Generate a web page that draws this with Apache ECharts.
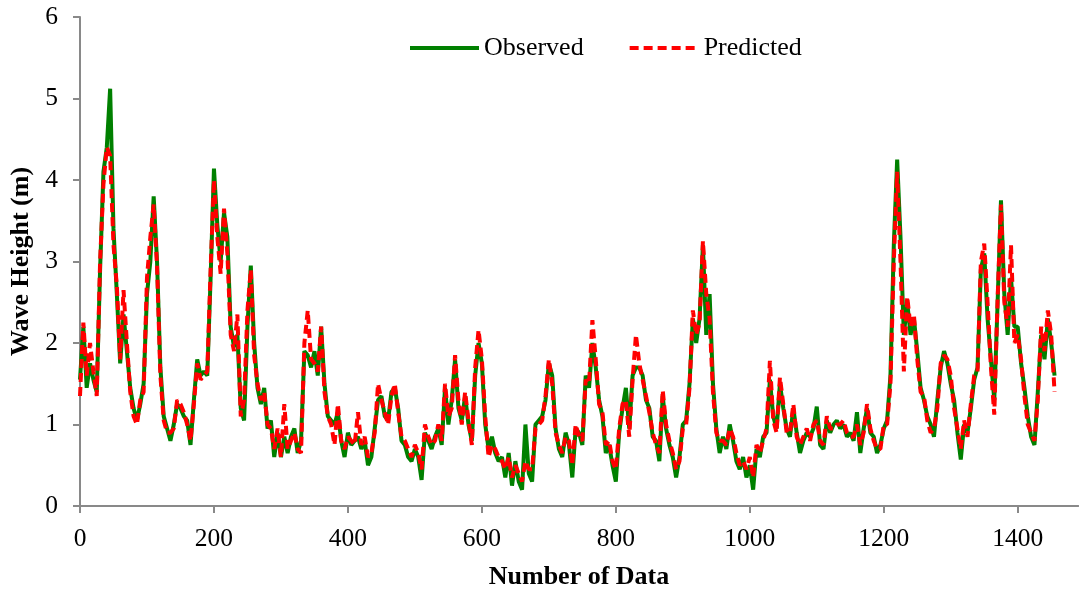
<!DOCTYPE html>
<html>
<head>
<meta charset="utf-8">
<script src="https://cdn.jsdelivr.net/npm/echarts@6/dist/echarts.min.js"></script>
<style>
html,body{margin:0;padding:0;background:#fff;}
#chart{width:1080px;height:591px;}
</style>
</head>
<body>
<div id="chart"></div>
<script>
// Sample spacing along "Number of Data" (one value every STEP data points)
const STEP = 5;
const xTicks = [0, 200, 400, 600, 800, 1000, 1200, 1400];
const seriesNames = ['Observed', 'Predicted'];

const observed = [
  1.55,2.2,1.45,1.75,1.55,1.4,2.9,4.1,4.4,5.12, 3.4,2.6,1.75,2.35,1.9,1.45,1.2,1.05,1.25,1.5,
  2.6,3.0,3.8,3.0,1.7,1.1,0.95,0.8,1.0,1.25, 1.2,1.1,1.05,0.75,1.3,1.8,1.6,1.65,1.6,2.8,
  4.14,3.45,3.0,3.6,3.3,2.2,1.95,2.1,1.2,1.05, 2.2,2.95,2.0,1.45,1.25,1.45,0.95,1.05,0.6,0.9,
  0.6,0.85,0.65,0.85,0.95,0.65,0.8,1.9,1.85,1.7, 1.9,1.6,2.2,1.5,1.1,1.05,1.0,1.15,0.8,0.6,
  0.9,0.75,0.8,0.85,0.7,0.8,0.5,0.6,0.95,1.3, 1.35,1.1,1.05,1.4,1.45,1.2,0.8,0.75,0.6,0.55,
  0.7,0.6,0.32,0.9,0.8,0.7,0.85,0.95,0.75,1.45, 1.0,1.3,1.8,1.2,1.05,1.35,1.0,0.8,1.6,2.0,
  1.75,1.0,0.7,0.85,0.65,0.55,0.6,0.35,0.65,0.25, 0.55,0.3,0.2,1.0,0.4,0.3,1.0,1.05,1.1,1.3,
  1.75,1.6,0.95,0.7,0.6,0.9,0.75,0.35,0.95,0.9, 0.75,1.6,1.45,2.0,1.7,1.3,1.1,0.65,0.75,0.5,
  0.3,0.9,1.2,1.45,0.95,1.6,1.7,1.7,1.6,1.3, 1.2,0.85,0.8,0.55,1.35,0.95,0.75,0.6,0.35,0.6,
  1.0,1.05,1.5,2.3,2.0,2.3,3.2,2.1,2.6,1.5, 0.95,0.65,0.85,0.7,1.0,0.8,0.55,0.45,0.6,0.35,
  0.5,0.2,0.7,0.6,0.85,0.9,1.55,1.1,0.95,1.5, 1.2,0.95,0.85,1.2,0.9,0.65,0.8,0.9,0.85,0.95,
  1.22,0.75,0.7,1.05,0.9,1.0,1.05,0.95,1.0,0.85, 0.9,0.8,1.15,0.65,0.95,1.2,0.9,0.85,0.65,0.75,
  0.95,1.05,1.6,3.2,4.25,3.3,2.1,2.5,2.1,2.3, 1.9,1.45,1.3,1.1,1.0,0.85,1.3,1.7,1.9,1.75,
  1.5,1.3,0.9,0.57,1.0,0.9,1.2,1.55,1.7,2.9, 3.1,2.3,1.8,1.3,2.5,3.75,2.6,2.1,2.8,2.2,
  2.2,1.75,1.45,1.1,0.85,0.75,1.4,2.1,1.8,2.3,2.0,1.6
];

const predicted = [
  1.35,2.25,1.6,2.0,1.65,1.35,3.0,3.95,4.4,4.3, 3.2,2.7,1.8,2.65,2.0,1.4,1.1,1.0,1.3,1.4,
  2.8,3.3,3.7,2.95,1.6,1.05,0.9,0.9,0.95,1.3, 1.25,1.15,1.0,0.8,1.25,1.75,1.55,1.6,1.65,2.9,
  4.0,3.3,2.85,3.65,3.1,2.1,1.9,2.35,1.1,1.3, 2.4,2.9,1.85,1.5,1.3,1.4,1.0,0.95,0.7,0.95,
  0.6,1.25,0.7,0.8,0.9,0.7,0.65,2.0,2.4,1.8, 1.75,1.65,2.2,1.4,1.1,1.0,0.75,1.25,0.8,0.7,
  0.85,0.8,0.75,1.15,0.75,0.85,0.6,0.65,0.9,1.5, 1.3,1.15,1.0,1.35,1.5,1.15,0.85,0.8,0.7,0.6,
  0.75,0.65,0.45,1.0,0.85,0.75,0.8,1.0,0.8,1.5, 1.1,1.2,1.85,1.3,1.0,1.4,1.05,0.75,1.7,2.16,
  1.8,1.1,0.6,0.75,0.7,0.6,0.55,0.45,0.6,0.35, 0.5,0.4,0.3,0.55,0.45,0.45,0.95,1.0,1.05,1.35,
  1.8,1.5,0.9,0.75,0.65,0.85,0.8,0.5,1.0,0.85, 0.8,1.55,1.5,2.28,1.8,1.25,1.15,0.75,0.8,0.55,
  0.45,0.95,1.25,1.3,0.85,1.55,2.1,1.75,1.55,1.35, 1.15,0.9,0.75,0.65,1.42,1.0,0.8,0.65,0.45,0.55,
  0.95,1.0,1.45,2.4,2.1,2.25,3.25,2.6,2.3,1.4, 0.9,0.8,0.8,0.75,0.95,0.85,0.65,0.5,0.55,0.45,
  0.6,0.35,0.75,0.65,0.8,0.95,1.78,1.05,0.9,1.58, 1.25,0.9,0.9,1.25,0.85,0.75,0.85,0.95,0.8,1.0,
  1.05,0.8,0.75,1.1,0.95,0.95,1.0,1.0,1.05,0.9, 0.85,0.85,1.0,0.75,0.9,1.25,0.95,0.8,0.7,0.7,
  1.0,1.0,1.5,3.0,4.1,3.0,1.65,2.57,2.2,2.35, 1.8,1.4,1.35,1.05,0.9,0.95,1.2,1.75,1.85,1.8,
  1.6,1.2,0.95,0.7,1.05,0.85,1.25,1.6,1.65,3.0, 3.22,2.5,1.7,1.12,2.55,3.7,2.5,2.2,3.2,2.0,
  2.1,1.8,1.35,1.0,0.9,0.8,1.3,2.2,1.9,2.4,2.1,1.4
];

const toPairs = arr => arr.map((v, k) => [k * STEP, v]);

const FONT = "'Liberation Serif', 'Times New Roman', serif";
const AXIS_COLOR = '#898989';

const chart = echarts.init(document.getElementById('chart'), null, {renderer: 'canvas'});
chart.setOption({
  animation: false,
  backgroundColor: '#ffffff',
  grid: {left: 80, right: 2, top: 17, bottom: 85, containLabel: false, outerBoundsMode: 'none'},
  legend: {
    data: seriesNames,
    left: 408, top: 35,
    itemWidth: 69, itemHeight: 14, itemGap: 44,
    itemStyle: {opacity: 0},
    lineStyle: {width: 4},
    textStyle: {fontFamily: FONT, fontSize: 26, color: '#000', padding: [0, 0, 0, 0]},
    padding: 0
  },
  xAxis: [{
    type: 'value', min: 0, max: 1490, interval: 200,
    name: 'Number of Data', nameLocation: 'middle', nameGap: 58,
    nameTextStyle: {fontFamily: FONT, fontSize: 26, fontWeight: 'bold', color: '#000'},
    axisLine: {show: true, onZero: false, lineStyle: {color: AXIS_COLOR, width: 2}},
    axisTick: {show: true, inside: false, length: 7, customValues: xTicks, lineStyle: {color: AXIS_COLOR, width: 2}},
    axisLabel: {fontFamily: FONT, fontSize: 25.5, color: '#000', margin: 20, customValues: xTicks,
      formatter: v => String(v)},
    splitLine: {show: false}
  }, {
    type: 'value', position: 'top', min: 0, max: 1490,
    axisLine: {show: true, lineStyle: {color: AXIS_COLOR, width: 2}},
    axisTick: {show: false}, axisLabel: {show: false}, splitLine: {show: false}
  }],
  yAxis: {
    type: 'value', min: 0, max: 6, interval: 1,
    name: 'Wave Height (m)', nameLocation: 'middle', nameGap: 45,
    nameTextStyle: {fontFamily: FONT, fontSize: 26, fontWeight: 'bold', color: '#000'},
    axisLine: {show: true, lineStyle: {color: AXIS_COLOR, width: 2}},
    axisTick: {show: true, inside: false, length: 7, lineStyle: {color: AXIS_COLOR, width: 2}},
    axisLabel: {fontFamily: FONT, fontSize: 25.5, color: '#000', margin: 22},
    splitLine: {show: false}
  },
  series: [{
    name: seriesNames[0], type: 'line', xAxisIndex: 0, data: toPairs(observed),
    symbol: 'none', smooth: false,
    lineStyle: {color: '#008000', width: 4},
    itemStyle: {color: '#008000'}
  }, {
    name: seriesNames[1], type: 'line', xAxisIndex: 0, data: toPairs(predicted),
    symbol: 'none', smooth: false,
    lineStyle: {color: '#ff0000', width: 4, type: [9, 5]},
    itemStyle: {color: '#ff0000'}
  }]
});
</script>
</body>
</html>
